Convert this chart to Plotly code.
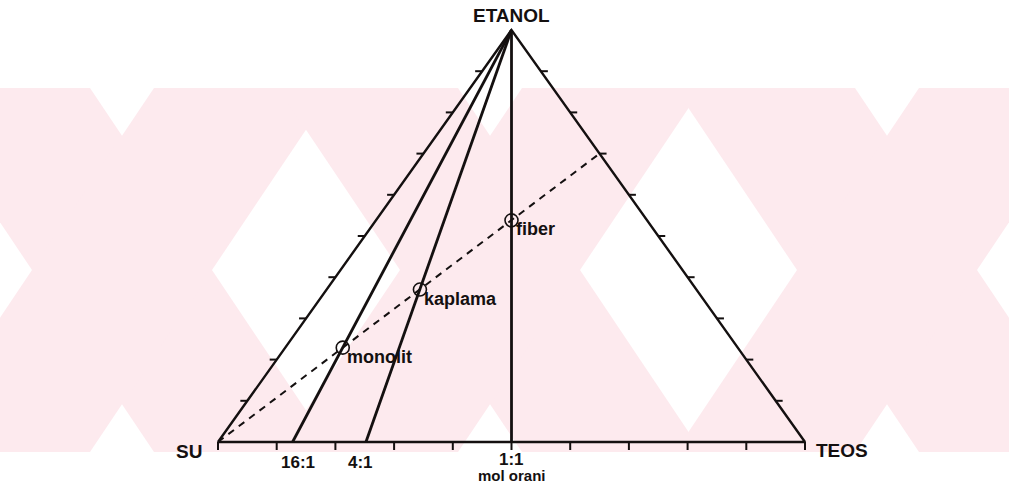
import plotly.graph_objects as go

# Compositions are given as (TEOS fraction, ETANOL fraction); SU is the remainder.
corner_names = ["SU", "TEOS", "ETANOL"]

# Water:TEOS mole ratio lines, by where they meet the SU-TEOS side
ratio_labels = ["16:1", "4:1", "1:1"]
ratio_base_teos = [0.127, 0.252, 0.5]

# Dilution line from the SU corner to the TEOS-ETANOL side
dilution_end = (0.30, 0.70)

# Sample compositions on the dilution line
sample_names = ["monolit", "kaplama", "fiber"]
sample_teos = [0.098, 0.159, 0.231]
sample_etanol = [0.229, 0.370, 0.538]

side_ticks = [0.1, 0.2, 0.3, 0.4, 0.5, 0.6, 0.7, 0.8, 0.9]

INK = "#141010"
PINK = "#fdeaee"
FAMILY = "Liberation Sans, Arial, sans-serif"


def to_xy(teos, etanol):
    return teos + 0.5 * etanol, etanol


fig = go.Figure()

# triangle outline
tri = [to_xy(0, 0), to_xy(1, 0), to_xy(0, 1), to_xy(0, 0)]
fig.add_trace(go.Scatter(x=[p[0] for p in tri], y=[p[1] for p in tri], mode="lines",
                         line=dict(color=INK, width=2.4), hoverinfo="skip"))

# mole ratio lines to the ETANOL corner
top = to_xy(0, 1)
for f in ratio_base_teos:
    b = to_xy(f, 0)
    fig.add_trace(go.Scatter(x=[b[0], top[0]], y=[b[1], top[1]], mode="lines",
                             line=dict(color=INK, width=2.8), hoverinfo="skip"))

# dashed dilution line
e = to_xy(*dilution_end)
fig.add_trace(go.Scatter(x=[0, e[0]], y=[0, e[1]], mode="lines",
                         line=dict(color=INK, width=2, dash="7px,6px"), hoverinfo="skip"))

# ticks along the three sides
dx_tick = 7 / 587
dy_tick = 8 / 412
tx, ty = [], []
for t in [0.0] + side_ticks + [1.0]:
    x, y = to_xy(t, 0)
    tx += [x, x, None]
    ty += [y, y - dy_tick, None]
for t in side_ticks:
    x, y = to_xy(0, t)
    tx += [x, x - dx_tick, None]
    ty += [y, y, None]
    x, y = to_xy(1 - t, t)
    tx += [x, x + dx_tick, None]
    ty += [y, y, None]
fig.add_trace(go.Scatter(x=tx, y=ty, mode="lines", line=dict(color=INK, width=2),
                         hoverinfo="skip"))

# sample points
sx, sy = zip(*[to_xy(a, b) for a, b in zip(sample_teos, sample_etanol)])
fig.add_trace(go.Scatter(x=sx, y=sy, mode="markers",
                         marker=dict(symbol="circle-open", size=13, color=INK,
                                     line=dict(width=1.6)),
                         hoverinfo="skip"))

font_b = dict(family=FAMILY, size=19, color=INK)

ann = []
for name, x, y in zip(sample_names, sx, sy):
    ann.append(dict(x=x, y=y, text="<b>" + name + "</b>", showarrow=False, xanchor="left",
                    yanchor="middle", xshift=2, yshift=-9,
                    font=dict(family=FAMILY, size=18, color=INK)))

cx, cy = to_xy(0, 0)
ann.append(dict(x=cx, y=cy, text="<b>SU</b>", showarrow=False, xanchor="right",
                yanchor="middle", xshift=-14, yshift=-9, font=font_b))
cx, cy = to_xy(1, 0)
ann.append(dict(x=cx, y=cy, text="<b>TEOS</b>", showarrow=False, xanchor="left",
                yanchor="middle", xshift=9, yshift=-8, font=font_b))
cx, cy = to_xy(0, 1)
ann.append(dict(x=cx, y=cy, text="<b>ETANOL</b>", showarrow=False, xanchor="center",
                yanchor="middle", xshift=0, yshift=15, font=font_b))

label_dx = [5, -5, 0]
label_dy = [-20, -20, -17]
for lab, f, dx, dy in zip(ratio_labels, ratio_base_teos, label_dx, label_dy):
    x, y = to_xy(f, 0)
    ann.append(dict(x=x, y=y, text="<b>" + lab + "</b>", showarrow=False, xanchor="center",
                    yanchor="middle", xshift=dx, yshift=dy,
                    font=dict(family=FAMILY, size=17, color=INK)))
x, y = to_xy(0.5, 0)
ann.append(dict(x=x, y=y, text="<b>mol orani</b>", showarrow=False, xanchor="center",
                yanchor="middle", yshift=-33,
                font=dict(family=FAMILY, size=15, color=INK)))

# faint background watermark: a row of large crossed bands (page pixel units)
mark_top, mark_bottom = 88, 452
mark_centres = [122, 490, 887]
arm_width, arm_reach = 180, 122
shapes = []
for c in mark_centres:
    for sgn in (-1, 1):
        xt = c + sgn * arm_reach
        xb = c - sgn * arm_reach
        pts = [(xt - arm_width / 2, mark_top), (xt + arm_width / 2, mark_top),
               (xb + arm_width / 2, mark_bottom), (xb - arm_width / 2, mark_bottom)]
        path = "M " + " L ".join(f"{px / 1009:.5f},{1 - py / 487:.5f}" for px, py in pts) + " Z"
        shapes.append(dict(type="path", xref="paper", yref="paper", path=path,
                           fillcolor=PINK, line=dict(width=0), layer="below"))

fig.update_layout(
    width=1009, height=487, margin=dict(l=0, r=0, t=0, b=0),
    paper_bgcolor="white", plot_bgcolor="rgba(0,0,0,0)", showlegend=False,
    xaxis=dict(range=[-218 / 587, 791 / 587], visible=False, fixedrange=True),
    yaxis=dict(range=[-45 / 412, 442 / 412], visible=False, fixedrange=True),
    annotations=ann, shapes=shapes,
)

fig.write_html("out.html")
